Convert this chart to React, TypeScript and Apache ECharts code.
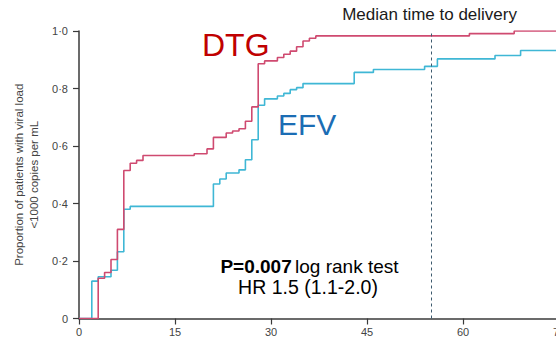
import React, { useEffect, useRef } from "react";
import * as echarts from "echarts";

// Kaplan–Meier style cumulative proportions (value holds from each day onward)
const DTG_DAYS = [0, 3, 4, 5, 6, 7, 8, 9, 10, 18, 20, 21, 23, 24, 25, 26, 27, 28, 29, 31, 32, 33, 34, 35, 36, 37, 61, 68, 75];
const DTG_PROP = [0, 0.14, 0.16, 0.205, 0.31, 0.515, 0.54, 0.55, 0.567, 0.573, 0.59, 0.63, 0.645, 0.652, 0.66, 0.686, 0.736, 0.886, 0.896, 0.908, 0.919, 0.93, 0.945, 0.965, 0.975, 0.983, 0.991, 1.0, 1.0];

const EFV_DAYS = [0, 2, 3, 5, 6, 7, 8, 21, 22, 23, 25, 26, 27, 28, 29, 31, 32, 33, 34, 35, 43, 46, 54, 56, 65, 69, 75];
const EFV_PROP = [0, 0.13, 0.145, 0.168, 0.232, 0.38, 0.39, 0.468, 0.485, 0.506, 0.517, 0.552, 0.622, 0.742, 0.764, 0.774, 0.783, 0.796, 0.803, 0.817, 0.856, 0.866, 0.877, 0.903, 0.915, 0.932, 0.932];

const X_MAX = 75;
const X_STEP = 15;
const Y_STEP = 0.2;
const MEDIAN_DELIVERY_DAY = 55;

const Y_NAME = "Proportion of patients with viral load\n<1000 copies per mL";
const P_VALUE = "P=0.007";
const TEST_NAME = "log rank test";
const HR_TEXT = "HR 1.5 (1.1-2.0)";
const MEDIAN_LABEL = "Median time to delivery";

const AXIS_COLOR = "#3a3a3a";
const LABEL_COLOR = "#444";
const DTG_LINE = "#cf4a70";
const EFV_LINE = "#3fb7d5";
const SANS = "'Liberation Sans', Arial, sans-serif";

const pairs = (xs: number[], ys: number[]) => xs.map((x, i) => [x, ys[i]]);

export default function App() {
  const ref = useRef<HTMLDivElement>(null);

  useEffect(() => {
    if (!ref.current) return;
    const chart = echarts.init(ref.current, undefined, { renderer: "svg" });
    chart.setOption({
      animation: false,
      grid: { left: 79, top: 31, width: 480, bottom: 24.5, containLabel: false },
      xAxis: {
        type: "value",
        min: 0,
        max: X_MAX,
        interval: X_STEP,
        axisLine: { show: true, lineStyle: { color: AXIS_COLOR, width: 1.5 } },
        axisTick: { show: true, length: 6, lineStyle: { color: AXIS_COLOR, width: 1.2 } },
        axisLabel: { color: LABEL_COLOR, fontSize: 11, fontFamily: SANS, margin: 8 },
        splitLine: { show: false },
      },
      yAxis: {
        type: "value",
        min: 0,
        max: 1,
        interval: Y_STEP,
        name: Y_NAME,
        nameLocation: "middle",
        nameGap: 37,
        nameTextStyle: { color: LABEL_COLOR, fontSize: 11.5, fontFamily: SANS, lineHeight: 15 },
        axisLine: { show: true, lineStyle: { color: AXIS_COLOR, width: 1.5 } },
        axisTick: { show: true, length: 6, lineStyle: { color: AXIS_COLOR, width: 1.2 } },
        axisLabel: {
          color: LABEL_COLOR,
          fontSize: 11,
          fontFamily: SANS,
          margin: 11,
          formatter: (v: number) => (v === 0 ? "0" : v.toFixed(1).replace(".", "·")),
        },
        splitLine: { show: false },
      },
      series: [
        {
          name: "EFV",
          type: "line",
          step: "end",
          symbol: "none",
          data: pairs(EFV_DAYS, EFV_PROP),
          lineStyle: { color: EFV_LINE, width: 1.6 },
          z: 2,
          markLine: {
            silent: true,
            symbol: "none",
            label: { show: false },
            lineStyle: { color: "#3d5a6e", width: 1, type: [3, 3] },
            data: [[{ coord: [MEDIAN_DELIVERY_DAY, 0] }, { coord: [MEDIAN_DELIVERY_DAY, 1] }]],
          },
        },
        {
          name: "DTG",
          type: "line",
          step: "end",
          symbol: "none",
          data: pairs(DTG_DAYS, DTG_PROP),
          lineStyle: { color: DTG_LINE, width: 1.6 },
          z: 3,
        },
      ],
      graphic: [
        {
          type: "text",
          x: 202,
          y: 44.7,
          style: { text: "DTG", font: `32px ${SANS}`, fill: "#c00000", verticalAlign: "middle" },
        },
        {
          type: "text",
          x: 278,
          y: 124.5,
          style: { text: "EFV", font: `30px ${SANS}`, fill: "#1b6db4", verticalAlign: "middle" },
        },
        {
          type: "text",
          x: 517,
          y: 14,
          style: { text: MEDIAN_LABEL, font: `17px ${SANS}`, fill: "#1a1a1a", align: "right", verticalAlign: "middle" },
        },
        {
          type: "text",
          x: 309.5,
          y: 266,
          style: {
            text: `{b|${P_VALUE}} {r|${TEST_NAME}}`,
            align: "center",
            verticalAlign: "middle",
            rich: {
              b: { fontFamily: SANS, fontSize: 19, fontWeight: "bold", fill: "#000", color: "#000" },
              r: { fontFamily: SANS, fontSize: 19, fill: "#000", color: "#000" },
            },
          },
        },
        {
          type: "text",
          x: 308,
          y: 286.5,
          style: { text: HR_TEXT, font: `19.5px ${SANS}`, fill: "#000", align: "center", verticalAlign: "middle" },
        },
      ],
    });
    return () => chart.dispose();
  }, []);

  return (
    <div style={{ position: "fixed", left: 0, top: 0, width: 556, height: 343, overflow: "hidden", background: "#fff" }}>
      <div ref={ref} style={{ width: 620, height: 343 }} />
    </div>
  );
}
